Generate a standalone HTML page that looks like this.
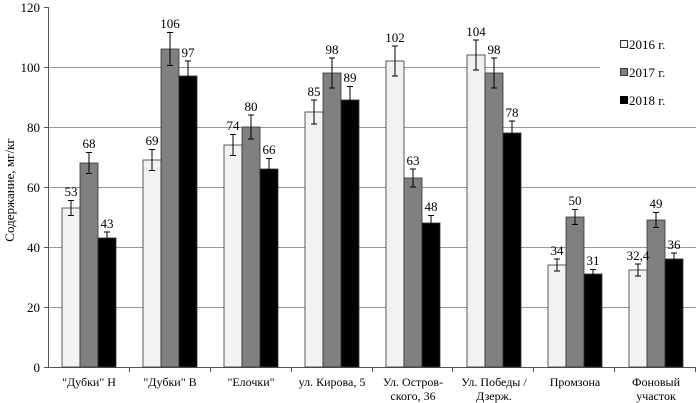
<!DOCTYPE html>
<html><head><meta charset="utf-8"><style>
body{margin:0;background:#fff}
svg{display:block;font-family:"Liberation Serif",serif}
</style></head><body>
<svg width="699" height="403" viewBox="0 0 699 403" xmlns="http://www.w3.org/2000/svg">
<g stroke="#999" stroke-width="1">
<line x1="48" y1="307.5" x2="696" y2="307.5"/>
<line x1="48" y1="247.5" x2="696" y2="247.5"/>
<line x1="48" y1="187.5" x2="696" y2="187.5"/>
<line x1="48" y1="127.5" x2="696" y2="127.5"/>
<line x1="48" y1="67.5" x2="696" y2="67.5"/>
</g>
<rect x="600" y="30" width="99" height="88" fill="#fff"/>
<g stroke="#555" stroke-width="1">
<line x1="48.5" y1="7" x2="48.5" y2="367"/>
<line x1="48" y1="367.5" x2="696" y2="367.5"/>
<line x1="44" y1="7.5" x2="48" y2="7.5"/><line x1="44" y1="67.5" x2="48" y2="67.5"/><line x1="44" y1="127.5" x2="48" y2="127.5"/><line x1="44" y1="187.5" x2="48" y2="187.5"/><line x1="44" y1="247.5" x2="48" y2="247.5"/><line x1="44" y1="307.5" x2="48" y2="307.5"/><line x1="44" y1="367.5" x2="48" y2="367.5"/>
<line x1="129.5" y1="367" x2="129.5" y2="372"/><line x1="210.5" y1="367" x2="210.5" y2="372"/><line x1="291.5" y1="367" x2="291.5" y2="372"/><line x1="372.5" y1="367" x2="372.5" y2="372"/><line x1="452.5" y1="367" x2="452.5" y2="372"/><line x1="533.5" y1="367" x2="533.5" y2="372"/><line x1="614.5" y1="367" x2="614.5" y2="372"/><line x1="695.5" y1="367" x2="695.5" y2="372"/>
</g>
<g font-size="13" text-anchor="end" fill="#000">
<text x="40" y="12">120</text><text x="40" y="72">100</text><text x="40" y="132">80</text><text x="40" y="192">60</text><text x="40" y="252">40</text><text x="40" y="312">20</text><text x="40" y="372">0</text>
</g>
<text transform="translate(14,190) rotate(-90)" font-size="13" text-anchor="middle">Содержание, мг/кг</text>
<g stroke="#333" stroke-width="0.8">
<!-- white -->
<rect x="62" y="208" width="18" height="159" fill="#f2f2f2"/>
<rect x="143" y="160" width="18" height="207" fill="#f2f2f2"/>
<rect x="224" y="145" width="18" height="222" fill="#f2f2f2"/>
<rect x="305" y="112" width="18" height="255" fill="#f2f2f2"/>
<rect x="386" y="61" width="18" height="306" fill="#f2f2f2"/>
<rect x="467" y="55" width="18" height="312" fill="#f2f2f2"/>
<rect x="548" y="265" width="18" height="102" fill="#f2f2f2"/>
<rect x="629" y="270" width="18" height="97" fill="#f2f2f2"/>
<!-- gray -->
<rect x="80" y="163" width="18" height="204" fill="#808080"/>
<rect x="161" y="49" width="18" height="318" fill="#808080"/>
<rect x="242" y="127" width="18" height="240" fill="#808080"/>
<rect x="323" y="73" width="18" height="294" fill="#808080"/>
<rect x="404" y="178" width="18" height="189" fill="#808080"/>
<rect x="485" y="73" width="18" height="294" fill="#808080"/>
<rect x="566" y="217" width="18" height="150" fill="#808080"/>
<rect x="647" y="220" width="18" height="147" fill="#808080"/>
<!-- black -->
<rect x="98" y="238" width="18" height="129" fill="#000"/>
<rect x="179" y="76" width="18" height="291" fill="#000"/>
<rect x="260" y="169" width="18" height="198" fill="#000"/>
<rect x="341" y="100" width="18" height="267" fill="#000"/>
<rect x="422" y="223" width="18" height="144" fill="#000"/>
<rect x="503" y="133" width="18" height="234" fill="#000"/>
<rect x="584" y="274" width="18" height="93" fill="#000"/>
<rect x="665" y="259" width="18" height="108" fill="#000"/>
</g>
<g stroke="#000" stroke-width="1" fill="none">
<path d="M71 200.5v15M68 200.5h6M68 215.5h6"/>
<path d="M89 152.5v21M86 152.5h6M86 173.5h6"/>
<path d="M107 232v12M104 232h6M104 244h6"/>
<path d="M152 149.5v21M149 149.5h6M149 170.5h6"/>
<path d="M170 32.5v33M167 32.5h6M167 65.5h6"/>
<path d="M188 61v30M185 61h6M185 91h6"/>
<path d="M233 134.5v21M230 134.5h6M230 155.5h6"/>
<path d="M251 115v24M248 115h6M248 139h6"/>
<path d="M269 158.5v21M266 158.5h6M266 179.5h6"/>
<path d="M314 100v24M311 100h6M311 124h6"/>
<path d="M332 58v30M329 58h6M329 88h6"/>
<path d="M350 86.5v27M347 86.5h6M347 113.5h6"/>
<path d="M395 46v30M392 46h6M392 76h6"/>
<path d="M413 169v18M410 169h6M410 187h6"/>
<path d="M431 215.5v15M428 215.5h6M428 230.5h6"/>
<path d="M476 40v30M473 40h6M473 70h6"/>
<path d="M494 58v30M491 58h6M491 88h6"/>
<path d="M512 121v24M509 121h6M509 145h6"/>
<path d="M557 259v12M554 259h6M554 271h6"/>
<path d="M575 209.5v15M572 209.5h6M572 224.5h6"/>
<path d="M593 269.5v9M590 269.5h6M590 278.5h6"/>
<path d="M638 264v12M635 264h6M635 276h6"/>
<path d="M656 212.5v15M653 212.5h6M653 227.5h6"/>
<path d="M674 253v12M671 253h6M671 265h6"/>
</g>
<g font-size="13" text-anchor="middle">
<text x="71" y="196">53</text><text x="89" y="148">68</text><text x="107" y="228">43</text>
<text x="152" y="145">69</text><text x="170" y="28">106</text><text x="188" y="57">97</text>
<text x="233" y="130">74</text><text x="251" y="111">80</text><text x="269" y="154">66</text>
<text x="314" y="96">85</text><text x="332" y="54">98</text><text x="350" y="82">89</text>
<text x="395" y="42">102</text><text x="413" y="165">63</text><text x="431" y="211">48</text>
<text x="476" y="36">104</text><text x="494" y="54">98</text><text x="512" y="117">78</text>
<text x="557" y="255">34</text><text x="575" y="205">50</text><text x="593" y="265">31</text>
<text x="638" y="260">32,4</text><text x="656" y="208">49</text><text x="674" y="249">36</text>
</g>
<g font-size="12" text-anchor="middle">
<text x="89" y="386">"Дубки"  Н</text>
<text x="170" y="386">"Дубки"  В</text>
<text x="251" y="386">"Елочки"</text>
<text x="332" y="386">ул. Кирова, 5</text>
<text x="413" y="386">Ул. Остров-</text><text x="413" y="400">ского, 36</text>
<text x="494" y="386">Ул. Победы /</text><text x="494" y="400">Дзерж.</text>
<text x="575" y="386">Промзона</text>
<text x="656" y="386">Фоновый</text><text x="656" y="400">участок</text>
</g>
<rect x="620.5" y="40.5" width="7" height="7" fill="#f2f2f2" stroke="#333"/>
<rect x="620.5" y="68.5" width="7" height="7" fill="#808080" stroke="#333"/>
<rect x="620.5" y="96.5" width="7" height="7" fill="#000" stroke="#000"/>
<g font-size="13"><text x="629" y="49">2016 г.</text><text x="629" y="77">2017 г.</text><text x="629" y="105">2018 г.</text></g>
</svg>
</body></html>
